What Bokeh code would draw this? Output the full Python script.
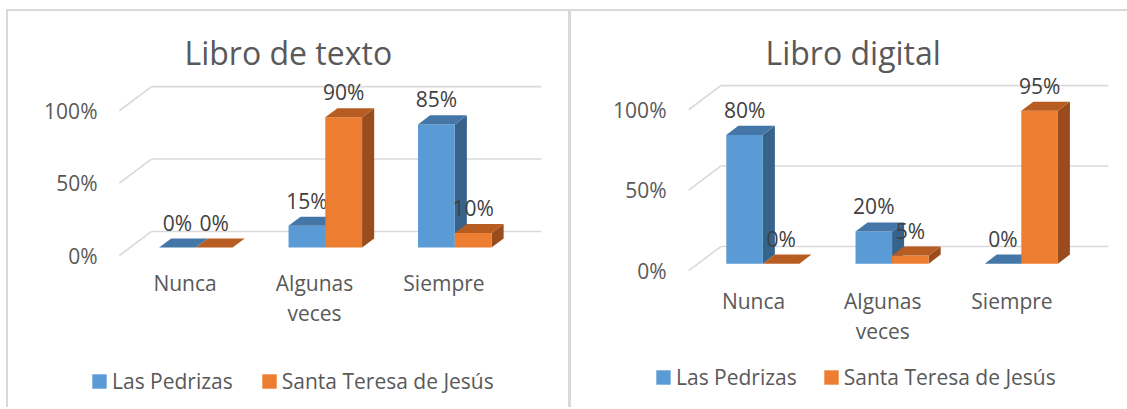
from bokeh.plotting import figure
from bokeh.models import (Range1d, LinearAxis, FixedTicker, NumeralTickFormatter,
                          ColumnDataSource, Legend, LegendItem, Title)
from bokeh.layouts import row
from bokeh.embed import file_html
from bokeh.resources import INLINE
from bokeh.core.properties import value

# ---------------- data ----------------
categories = ["Nunca", "Algunas veces", "Siempre"]
tick_labels = ["Nunca", "Algunas\nveces", "Siempre"]
series = ["Las Pedrizas", "Santa Teresa de Jesús"]
texto_pedrizas = [0.00, 0.15, 0.85]
texto_teresa = [0.00, 0.90, 0.10]
digital_pedrizas = [0.80, 0.20, 0.00]
digital_teresa = [0.00, 0.05, 0.95]
y_ticks = [0.0, 0.5, 1.0]

# ---------------- style ----------------
FONT = "Open Sans"
BLUE = dict(front="#5B9BD5", top="#4477A7", side="#37628C")
ORANGE = dict(front="#ED7D31", top="#B85D22", side="#9A4C1C")
GRID = "#D9D9D9"
AXIS_TXT = "#595959"
LABEL_TXT = "#404040"
BORDER = "#D9D9D9"

LEFT_LAYOUT = dict(cw=560, ch=396, frame=(2, 542, 58, 392),
                   x0=186, xs=128.5, y0=235, ys=144, bw=36.5, ddx=12, ddy=9,
                   fxo=10.7, fyo=8, byo=16, fx=110, bx=142, wall_end=529,
                   title_offset=174, title_standoff=-8, ylab_standoff=-87,
                   xlab_standoff=-137, legend_loc=(80, 10), legend_spacing=27)
RIGHT_LAYOUT = dict(cw=556, ch=396, frame=(2, 546, 58, 392),
                    x0=191, xs=129, y0=251, ys=160, bw=36.5, ddx=12, ddy=9,
                    fxo=9.3, fyo=7, byo=17, fx=117, bx=149, wall_end=536,
                    title_offset=192, title_standoff=-8, ylab_standoff=-93,
                    xlab_standoff=-119, legend_loc=(81, 14), legend_spacing=25)


def make_chart(title, vals_a, vals_b, L, styles, bw_x, bw_y):
    CW, CH = L["cw"], L["ch"]
    fl, fr, ft, fb = L["frame"]
    x0, xs, y0, ys = L["x0"], L["xs"], L["y0"], L["ys"]
    xr = Range1d((fl - x0) / xs, (fr - x0) / xs)
    yr = Range1d((y0 - fb) / ys, (y0 - ft) / ys)
    t = Title(text=title, align="left", offset=L["title_offset"], standoff=L["title_standoff"],
              text_font=FONT, text_font_size="32px", text_font_style="normal", text_color=AXIS_TXT)
    p = figure(width=CW + bw_x, height=CH + bw_y, x_range=xr, y_range=yr, title=t,
               output_backend="svg", toolbar_location=None,
               x_axis_location=None, y_axis_location=None,
               min_border_left=fl, min_border_right=CW - fr,
               min_border_top=ft, min_border_bottom=CH - fb,
               outline_line_color=None, background_fill_color="white",
               border_fill_color="white", styles=styles)
    p.grid.visible = False
    p.extra_x_ranges = {"front": Range1d(xr.start + L["fxo"] / xs, xr.end + L["fxo"] / xs)}
    p.extra_y_ranges = {"front": Range1d(yr.start + L["fyo"] / ys, yr.end + L["fyo"] / ys)}

    yaxis = LinearAxis(y_range_name="front", ticker=FixedTicker(ticks=y_ticks),
                       formatter=NumeralTickFormatter(format="0%"),
                       axis_line_color=None, major_tick_line_color=None,
                       major_tick_out=0, major_tick_in=0,
                       minor_tick_line_color=None, major_label_standoff=L["ylab_standoff"],
                       major_label_text_font=FONT, major_label_text_font_size="21px",
                       major_label_text_color=AXIS_TXT)
    p.add_layout(yaxis, "left")
    idx = list(range(len(categories)))
    xaxis = LinearAxis(x_range_name="front", ticker=FixedTicker(ticks=idx),
                       major_label_overrides={i: lab for i, lab in zip(idx, tick_labels)},
                       axis_line_color=None, major_tick_line_color=None,
                       major_tick_out=0, major_tick_in=0,
                       minor_tick_line_color=None, major_label_standoff=L["xlab_standoff"],
                       major_label_text_font=FONT, major_label_text_font_size="21px",
                       major_label_text_color=AXIS_TXT, major_label_text_line_height=1.1)
    p.add_layout(xaxis, "below")

    # 3D walls / gridlines
    fx_d = (L["fx"] - x0) / xs
    bx_d = (L["bx"] - x0) / xs
    we_d = (L["wall_end"] - x0) / xs
    fy_d = L["fyo"] / ys
    by_d = L["byo"] / ys
    gx, gy = [], []
    for v in y_ticks:
        gx.append([fx_d, bx_d])
        gy.append([v - fy_d, v + by_d])
        gx.append([bx_d, we_d])
        gy.append([v + by_d, v + by_d])
    p.multi_line(xs=gx, ys=gy, line_color=GRID, line_width=1.6)

    w = L["bw"] / xs
    ddx = L["ddx"] / xs
    ddy = L["ddy"] / ys
    fronts = []
    for vals, col, side in ((vals_a, BLUE, "a"), (vals_b, ORANGE, "b")):
        lefts = [i - w if side == "a" else i for i in idx]
        rights = [l + w for l in lefts]
        tops_x = [[l, l + ddx, r + ddx, r] for l, r in zip(lefts, rights)]
        tops_y = [[v, v + ddy, v + ddy, v] for v in vals]
        side_x = [[r, r + ddx, r + ddx, r] for r in rights]
        side_y = [[0, ddy, v + ddy, v] for v in vals]
        p.patches(xs=side_x, ys=side_y, fill_color=col["side"], line_color=None)
        fr_r = p.quad(left=lefts, right=rights, bottom=[0] * len(vals), top=vals,
                      fill_color=col["front"], line_color=None)
        p.patches(xs=tops_x, ys=tops_y, fill_color=col["top"], line_color=None)
        fronts.append(fr_r)
        src = ColumnDataSource(dict(x=[(l + r) / 2 for l, r in zip(lefts, rights)], y=vals,
                                    t=[f"{round(v * 100)}%" for v in vals]))
        p.text(x="x", y="y", text="t", source=src, y_offset=-25, text_align="center",
               text_baseline="middle", text_font=value(FONT), text_font_size="21px",
               text_color=LABEL_TXT)

    legend = Legend(items=[LegendItem(label=series[0], renderers=[fronts[0]]),
                           LegendItem(label=series[1], renderers=[fronts[1]])],
                    orientation="horizontal", location=L["legend_loc"], padding=0, margin=0,
                    spacing=L["legend_spacing"], glyph_width=18, glyph_height=18,
                    label_standoff=4,
                    label_text_font=FONT, label_text_font_size="21px",
                    label_text_color=AXIS_TXT, border_line_color=None,
                    background_fill_alpha=0)
    p.add_layout(legend)
    return p


b2 = f"2px solid {BORDER}"
p1 = make_chart("Libro de texto", texto_pedrizas, texto_teresa, LEFT_LAYOUT,
                {"border-top": b2, "border-left": b2, "border-right": b2}, 4, 2)
p2 = make_chart("Libro digital", digital_pedrizas, digital_teresa, RIGHT_LAYOUT,
                {"border-top": b2, "border-left": f"1px solid {BORDER}"}, 1, 2)

layout = row(p1, p2, margin=(9, 0, 0, 6))
open("out.html", "w").write(file_html(layout, INLINE))
